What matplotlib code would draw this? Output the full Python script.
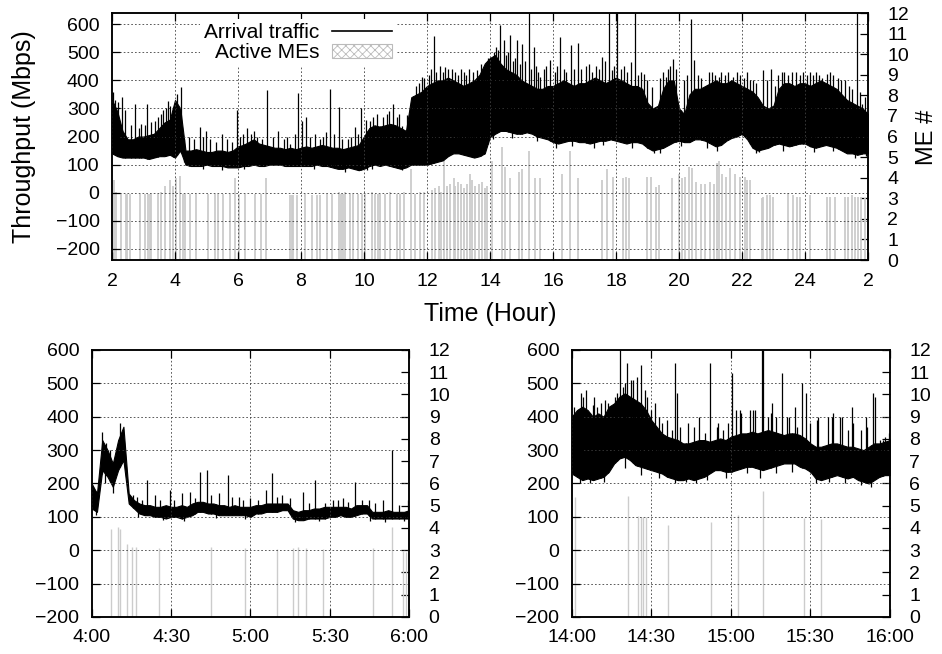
import numpy as np
import matplotlib
matplotlib.use('Agg')
import matplotlib.pyplot as plt
from matplotlib.lines import Line2D
from matplotlib.patches import Patch

plt.rcParams['font.family'] = ['Liberation Sans', 'DejaVu Sans']
plt.rcParams['hatch.linewidth'] = 0.6

# ---- top panel: whole day, 10-minute samples from 2:00 to 26:00 (2:00 next day)
top_lo = [140, 130, 125, 125, 125, 125,
          125, 120, 125, 130, 130, 135,
          125, 150, 100, 95, 95, 95,
          100, 95, 95, 95, 90, 90,
          90, 95, 95, 100, 95, 95,
          100, 100, 100, 95, 95, 95,
          95, 95, 95, 100, 95, 95,
          90, 85, 85, 90, 85, 80,
          85, 95, 100, 95, 100, 95,
          90, 85, 90, 100, 100, 100,
          100, 105, 110, 115, 130, 140,
          140, 135, 130, 125, 130, 140,
          200, 210, 220, 220, 215, 210,
          210, 215, 210, 200, 195, 190,
          180, 175, 180, 185, 185, 180,
          180, 175, 180, 185, 185, 190,
          185, 180, 175, 180, 180, 175,
          160, 150, 155, 160, 170, 180,
          185, 180, 180, 190, 190, 185,
          175, 165, 170, 185, 195, 200,
          210, 190, 160, 150, 155, 160,
          170, 175, 170, 165, 170, 175,
          175, 165, 160, 165, 170, 165,
          160, 150, 140, 140, 135, 140,
          140]
top_hi = [330, 290, 220, 190, 190, 200,
          200, 205, 210, 230, 250, 260,
          330, 300, 150, 150, 155, 150,
          145, 145, 150, 150, 145, 150,
          165, 170, 180, 190, 175, 170,
          165, 160, 160, 155, 160, 155,
          160, 165, 160, 165, 170, 165,
          160, 160, 155, 160, 165, 170,
          200, 230, 240, 235, 240, 245,
          240, 230, 220, 340, 350, 360,
          380, 390, 400, 400, 410, 400,
          390, 380, 390, 400, 420, 460,
          480, 490, 460, 440, 430, 420,
          400, 390, 380, 370, 370, 380,
          380, 390, 400, 390, 380, 390,
          390, 400, 410, 400, 390, 400,
          410, 400, 390, 380, 380, 370,
          320, 300, 310, 370, 400, 400,
          300, 280, 350, 370, 370, 380,
          390, 400, 390, 390, 400, 390,
          380, 370, 360, 340, 310, 300,
          310, 370, 390, 390, 380, 390,
          390, 380, 390, 400, 390, 380,
          370, 350, 330, 320, 310, 300,
          280]
# tall spikes above the band
top_spk_t = [2.03, 2.19, 2.32, 2.42, 2.74, 2.93, 3.12, 3.37, 3.62, 3.78, 3.94, 4.07, 4.2,
             4.79, 4.97, 5.5, 5.98, 6.17, 6.51, 6.93, 7.28, 7.65, 7.9, 8.02, 8.15, 8.79,
             8.92, 9.21, 9.5, 9.71, 9.9, 10.19, 10.51, 10.72, 10.91, 11.2, 11.36, 11.57,
             11.83, 12.21, 12.58, 12.79, 13.16, 13.59, 13.8, 14.06, 14.33, 14.43, 14.64,
             14.86, 15.02, 15.23, 15.39, 15.6, 15.91, 16.23, 16.5, 16.58, 16.79, 17.57,
             17.78, 17.88, 18.04, 18.47, 18.6, 18.89, 19.15, 19.58, 19.82, 20.39, 20.48,
             20.85, 21.27, 21.64, 21.73, 22.25, 22.68, 22.91, 23.26, 23.58, 24.16, 24.69,
             25.27, 25.64, 25.8]
top_spk_v = [358, 323, 340, 293, 317, 245, 317, 257, 293, 326, 305, 352, 376,
             233, 221, 210, 293, 210, 221, 364, 221, 174, 355, 257, 269, 215,
             370, 305, 192, 233, 302, 257, 239, 281, 317, 239, 275, 346,
             412, 557, 448, 442, 430, 436, 442, 477, 596, 543, 561,
             543, 531, 640, 519, 412, 471, 555, 376, 525, 533, 483,
             640, 436, 640, 465, 640, 424, 376, 412, 477, 620, 471,
             376, 412, 400, 412, 400, 436, 442, 430, 430, 430, 424,
             400, 640, 317]
# small spikes along the upper edge
top_tick_t = [2.1, 2.6, 2.85, 3.05, 3.25, 3.45, 3.55, 3.7, 3.85, 4.3, 4.45, 4.6, 4.9, 5.1,
              5.3, 5.65, 5.8, 6.05, 6.3, 6.4, 6.6, 6.75, 7.1, 7.45, 7.55, 7.8, 8.3, 8.45,
              8.6, 8.7, 9.05, 9.3, 9.6, 9.8, 10.05, 10.3, 10.4, 10.6, 10.8, 11.05, 11.1,
              11.45, 11.65, 11.75, 11.9,
              12.05, 12.12, 12.3, 12.42, 12.5, 12.66, 12.9, 13.0, 13.08, 13.25, 13.33,
              13.45, 13.7, 13.93, 14.12, 14.2, 14.25, 14.52, 14.58, 14.72, 14.78, 14.95,
              15.1, 15.3, 15.47, 15.52, 15.7, 15.78, 16.05, 16.12, 16.35, 16.42, 16.68,
              16.9, 17.05, 17.15, 17.25, 17.35, 17.45, 17.65, 17.95, 18.15, 18.25, 18.35,
              18.7, 18.8, 19.0, 19.4, 19.5, 19.65, 19.72, 19.9, 20.15, 20.25, 20.6, 20.7,
              20.95, 21.05, 21.15, 21.35, 21.45, 21.55, 21.85, 21.95, 22.05, 22.15, 22.35,
              22.45, 22.8, 23.05, 23.15, 23.35, 23.45, 23.7, 23.85, 23.95, 24.05, 24.25,
              24.35, 24.45, 24.55, 24.8, 24.9, 25.05, 25.15, 25.4, 25.5, 25.75, 25.9]
top_tick_v = [330, 240, 230, 240, 250, 270, 280, 300, 310, 190, 200, 190, 200, 190,
              180, 190, 180, 200, 230, 210, 200, 190, 200, 190, 200, 210, 200, 210,
              190, 200, 210, 190, 200, 210, 260, 270, 280, 270, 290, 270, 280,
              300, 380, 390, 410,
              420, 440, 430, 450, 430, 440, 430, 420, 440, 420, 440,
              430, 460, 480, 500, 520, 510, 490, 500, 470, 480, 460,
              470, 440, 450, 430, 440, 450, 430, 450, 440, 430, 440,
              440, 450, 460, 430, 450, 440, 470, 450, 440, 450, 430,
              420, 430, 400, 410, 430, 440, 450, 440, 400, 420, 420, 410,
              430, 430, 420, 430, 420, 430, 430, 420, 410, 430, 400,
              390, 400, 380, 420, 430, 420, 430, 420, 430, 420, 420,
              430, 420, 410, 430, 420, 410, 400, 380, 370, 360, 340]
# short dips below the band
top_dip_t = [4.9, 5.5, 6.2, 8.4, 9.4, 10.1, 10.25, 11.2, 14.1, 14.7, 15.5, 16.1, 16.6,
             17.3, 17.6, 18.5, 19.2, 19.4, 20.05, 20.9, 21.2, 22.45, 22.55, 23.3, 24.3,
             24.9, 25.6, 25.95]
top_dip_v = [85, 80, 85, 85, 75, 80, 85, 80, 190, 195, 185, 160, 165,
             160, 170, 160, 140, 140, 165, 160, 150, 140, 145, 150, 145,
             150, 125, 130]
top_me_t = [2.06, 2.14, 2.3, 2.45, 2.49, 2.56, 2.88, 3.04, 3.14, 3.2, 3.25, 3.46, 3.57, 3.69,
            3.83, 3.94, 4.04, 4.15, 4.25, 4.33, 4.47, 4.68, 5.05, 5.26, 5.37, 5.52, 5.74,
            5.89, 6.03, 6.21, 6.53, 6.74, 6.9,
            7.65, 7.7, 7.76, 7.86, 8.13, 8.34, 8.5, 8.6, 8.81, 8.97, 9.21, 9.27, 9.33, 9.4,
            9.56, 9.66, 9.82, 9.93, 10.03, 10.24, 10.35, 10.44, 10.51, 10.67, 10.83, 11.04,
            11.15, 11.28, 11.48, 11.62, 11.78, 11.92,
            12.16, 12.27, 12.37, 12.43, 12.53, 12.64, 12.74, 12.85, 12.9, 13.0, 13.09, 13.16,
            13.27, 13.37, 13.43, 13.53, 13.64, 13.74, 13.85, 13.9, 14.06, 14.38, 14.49, 14.64,
            14.91, 15.02, 15.23, 15.44, 15.6, 16.29, 16.55, 16.81,
            17.55, 17.73, 17.91, 18.23, 18.31, 18.41, 18.99, 19.1, 19.28, 19.36, 19.79, 20.0,
            20.1, 20.19, 20.31, 20.42, 20.53, 20.69, 20.84, 21.0, 21.11, 21.21, 21.27, 21.37,
            21.48, 21.63, 21.79,
            21.94, 22.09, 22.15, 22.25, 22.63, 22.68, 22.79, 22.89, 23.0, 23.47, 23.63, 23.74,
            23.84, 24.16, 24.69, 24.79, 24.95, 25.27, 25.37, 25.48, 25.58, 25.69, 25.79, 25.9]
top_me_v = [3.9, 3.3, 3.2, 3.2, 3.2, 3.2, 3.2, 3.2, 3.2, 3.2, 3.2, 3.2, 3.3, 3.6,
            3.9, 3.6, 4.0, 4.1, 3.2, 3.2, 3.2, 3.2, 3.2, 3.2, 3.2, 3.2, 3.2,
            4.0, 3.2, 3.2, 3.2, 3.2, 4.0,
            3.15, 3.15, 3.15, 3.15, 3.2, 3.15, 3.15, 3.15, 3.2, 3.2, 3.3, 3.2, 3.2, 3.3,
            3.2, 3.2, 3.2, 3.2, 3.2, 3.3, 3.2, 3.2, 3.2, 3.2, 3.3, 3.2,
            3.2, 3.3, 4.4, 3.2, 3.3, 3.3,
            3.4, 3.5, 3.6, 3.3, 5.0, 3.6, 3.7, 4.0, 3.6, 3.8, 3.7, 3.5,
            3.7, 4.2, 3.9, 3.6, 3.7, 3.8, 3.5, 3.6, 4.8, 5.5, 4.5, 4.0,
            4.3, 4.4, 5.3, 4.0, 4.0, 4.2, 5.3, 4.0,
            3.9, 4.4, 4.05, 3.97, 4.05, 3.97, 4.05, 4.05, 3.56, 3.64, 3.97, 4.2,
            3.97, 4.05, 4.5, 4.45, 3.8, 3.7, 3.7, 3.8, 3.7, 4.7, 4.8, 4.2,
            4.05, 4.45, 4.2,
            4.05, 4.05, 3.9, 3.9, 3.0, 3.08, 3.16, 3.16, 3.08, 3.24, 3.16, 3.08,
            3.08, 3.16, 3.08, 3.08, 3.08, 3.08, 3.08, 3.16, 3.08, 3.08, 3.08, 3.0]

# ---- bottom left: 4:00-6:00, 2-minute samples
a_lo = [125, 115, 240, 220, 190, 240, 270, 140, 125, 110, 105, 105, 100, 100, 95, 100,
        100, 95, 100, 105, 115, 115, 110, 110, 105, 105, 105, 105, 105, 105, 100, 110,
        110, 115, 115, 115, 120, 120, 95, 90, 90, 95, 95, 95, 95, 100, 100, 105,
        100, 100, 105, 110, 110, 95, 95, 95, 95, 95, 95, 95, 95]
a_hi = [200, 170, 330, 300, 260, 330, 370, 170, 150, 140, 135, 135, 130, 130, 135, 130,
        130, 135, 130, 140, 145, 145, 140, 140, 135, 135, 130, 135, 130, 130, 130, 135,
        135, 140, 140, 140, 140, 140, 120, 115, 120, 120, 125, 125, 130, 130, 130, 130,
        130, 125, 135, 135, 135, 115, 115, 115, 120, 115, 115, 115, 120]
a_spk_t = [3.8, 5.5, 7, 10.7, 15.7, 21, 24, 29.5, 34, 37, 41, 43.7, 48, 51.6, 55.5, 60,
           66, 68, 72, 79.7, 84.5, 91, 95, 99.5, 104.9, 110, 113.4, 119.5,
           17, 19, 26, 31, 39, 45, 53, 57, 63, 70, 75, 82, 88, 93, 97, 102, 107, 116]
a_spk_v = [355, 320, 300, 380, 165, 210, 165, 180, 170, 175, 235, 240, 170, 225, 160, 155,
           180, 230, 165, 175, 210, 150, 155, 205, 150, 150, 300, 150,
           160, 150, 150, 150, 155, 165, 160, 150, 150, 160, 155, 140, 140, 150, 145, 150,
           140, 135]
a_dip_t = [1.5, 5, 8, 17.5, 27, 35, 47, 58, 77, 86, 105, 111, 118]
a_dip_v = [105, 200, 170, 100, 90, 88, 98, 95, 85, 88, 88, 85, 88]
a_me_t = [7.3, 10.1, 10.8, 13.2, 15.4, 16.8, 25.6, 45.1, 57.9, 70.2, 75.9, 78.1, 81,
          87.3, 106.2, 113.5, 117.8, 118.8]
a_me_v = [3.96, 4.06, 3.96, 3.28, 3.13, 3.13, 3.1, 3.16, 3.1, 3.07, 3.1, 3.13, 3.1,
          3.05, 3.1, 4.03, 2.96, 2.93]

# ---- bottom right: 14:00-16:00, 2-minute samples
b_lo = [230, 220, 210, 215, 210, 215, 220, 235, 260, 275, 280, 270, 255, 250, 245, 240,
        235, 230, 220, 215, 210, 210, 215, 210, 215, 220, 230, 240, 240, 235, 235, 240,
        245, 250, 250, 245, 240, 245, 250, 255, 260, 260, 260, 250, 245, 235, 215, 210,
        215, 220, 225, 220, 215, 220, 210, 205, 200, 210, 220, 225, 225]
b_hi = [400, 420, 430, 420, 400, 410, 400, 430, 440, 460, 470, 460, 450, 440, 420, 390,
        370, 350, 340, 335, 330, 320, 320, 325, 330, 330, 325, 330, 335, 330, 340, 345,
        350, 350, 355, 350, 355, 360, 355, 350, 345, 350, 350, 345, 335, 320, 310, 310,
        315, 320, 320, 315, 310, 310, 305, 300, 310, 320, 320, 325, 330]
b_spk_t = [1, 3.5, 5.5, 8.5, 11, 13.5, 17, 18.2, 20, 21, 23, 24.5, 26, 27.5, 30, 33, 36,
           39, 39.8, 44, 48, 52, 55, 60.3, 62, 64, 68.5, 71.7, 72.3, 75, 77, 79.4, 82,
           84, 86.9, 88.3, 93, 98, 102, 106, 111, 113.7, 114.5, 118,
           1.9, 4.1, 8.2, 9.4, 12.6, 16.3, 19.5, 22.4, 28.3, 29.5, 31.4, 33.9, 37.7, 40.8,
           46, 50.3, 54.6, 57, 59, 63.4, 67.2, 69.1, 74.1, 75.4, 81, 84.8, 90, 92.3, 96.7,
           98.6, 101.1, 104, 105.5, 109, 111.2, 116.2, 117.5, 119.5]
b_spk_v = [430, 470, 480, 460, 440, 440, 470, 600, 500, 560, 510, 520, 555, 480, 420, 400,
           390, 560, 470, 380, 400, 560, 380, 530, 420, 410, 420, 600, 600, 410, 400, 530,
           400, 430, 500, 470, 400, 400, 400, 380, 400, 470, 460, 340,
           410, 460, 435, 430, 450, 460, 490, 510, 460, 400, 440, 380, 360, 370,
           370, 350, 370, 360, 380, 420, 420, 420, 400, 440, 400, 370, 380, 390, 400,
           410, 400, 360, 430, 360, 370, 330, 330, 350]
b_dip_t = [3, 7, 12, 20, 26, 33, 39, 43, 47, 51, 58, 66, 71, 77, 83, 92, 97, 103, 109, 113]
b_dip_v = [200, 200, 205, 245, 225, 215, 200, 205, 200, 210, 215, 230, 215, 230, 235, 200,
           205, 200, 195, 190]
b_me_t = [1.3, 21.4, 25.1, 26, 27, 27.9, 36.4, 52.4, 62.8, 72, 87.6, 93.8]
b_me_v = [5.4, 5.45, 4.54, 4.51, 4.48, 4.48, 4.13, 4.25, 4.6, 5.66, 4.43, 4.39]

fig = plt.figure(figsize=(9.42, 6.54), dpi=100)

gridkw = dict(color='#404040', linestyle=(0, (2, 2.5)), linewidth=0.6)
me_color = '#cccccc'


def panel(rect, t, lo, hi, spk_t, spk_v, dip_t, dip_v, me_t, me_v, ylim, lw_me):
    ax = fig.add_axes(rect)
    ax2 = ax.twinx()
    ax.set_zorder(ax2.get_zorder() + 1)
    ax.patch.set_visible(False)
    # active MEs on right axis, behind traffic
    ax2.vlines(me_t, 0, me_v, color=me_color, lw=lw_me)
    ax2.set_ylim(0, 12)
    ax2.set_yticks(range(0, 13))
    # traffic: band plus spikes and dips
    ax.fill_between(t, lo, hi, color='k', lw=0.8)
    ax.vlines(spk_t, np.interp(spk_t, t, lo), spk_v, color='k', lw=0.9)
    ax.vlines(dip_t, dip_v, np.interp(dip_t, t, hi), color='k', lw=0.9)
    ax.set_ylim(*ylim)
    ax.set_yticks(range(-200, 601, 100))
    ax.grid(True, **gridkw)
    for a in (ax, ax2):
        for s in a.spines.values():
            s.set_linewidth(1.1)
    ax.tick_params(direction='in', length=6, width=0.9, top=True, labelsize=14, pad=9)
    ax2.tick_params(direction='in', length=6, width=0.9, labelsize=14, pad=14)
    return ax, ax2


# top panel
t_top = 2 + np.arange(len(top_lo)) / 6.0
ax, ax2 = panel([0.1189, 0.6024, 0.8025, 0.3777], t_top, top_lo, top_hi,
                top_spk_t + top_tick_t, top_spk_v + top_tick_v, top_dip_t, top_dip_v,
                top_me_t, top_me_v, (-240, 640), 1.3)
ax.set_xlim(2, 26)
ax.set_xticks(range(2, 27, 2))
ax.set_xticklabels([str(h) if h <= 24 else str(h - 24) for h in range(2, 27, 2)])
ax.set_xlabel('Time (Hour)', fontsize=18, labelpad=9)
ax.set_ylabel('Throughput (Mbps)', fontsize=18, labelpad=14)
handles = [Line2D([], [], color='k', lw=1.2),
           Patch(facecolor='white', edgecolor='#bbbbbb', hatch='xxxx', lw=0.8)]
leg = ax.legend(handles, ['Arrival traffic', 'Active MEs'], loc='upper right',
                bbox_to_anchor=(0.376, 0.975), markerfirst=False, fontsize=15,
                handlelength=2.9, handleheight=0.7, handletextpad=0.6,
                labelspacing=0.05, borderpad=0.2, borderaxespad=0,
                frameon=True, fancybox=False, framealpha=1, edgecolor='none')
fig.text(0.984, 0.79, 'ME #', rotation=90, fontsize=17, ha='center', va='center')

# bottom left
t_a = 4 + np.arange(len(a_lo)) * 2 / 60.0
bl, bl2 = panel([0.0973, 0.0566, 0.3372, 0.4083], t_a, a_lo, a_hi,
                4 + np.array(a_spk_t) / 60.0, a_spk_v, 4 + np.array(a_dip_t) / 60.0, a_dip_v,
                4 + np.array(a_me_t) / 60.0, a_me_v, (-200, 600), 1.0)
bl.set_xlim(4, 6)
bl.set_xticks([4, 4.5, 5, 5.5, 6])
bl.set_xticklabels(['4:00', '4:30', '5:00', '5:30', '6:00'])

# bottom right
t_b = 14 + np.arange(len(b_lo)) * 2 / 60.0
br, br2 = panel([0.6069, 0.0566, 0.3379, 0.4083], t_b, b_lo, b_hi,
                14 + np.array(b_spk_t) / 60.0, b_spk_v, 14 + np.array(b_dip_t) / 60.0, b_dip_v,
                14 + np.array(b_me_t) / 60.0, b_me_v, (-200, 600), 1.0)
br.set_xlim(14, 16)
br.set_xticks([14, 14.5, 15, 15.5, 16])
br.set_xticklabels(['14:00', '14:30', '15:00', '15:30', '16:00'])

fig.savefig('out.png', dpi=100)
